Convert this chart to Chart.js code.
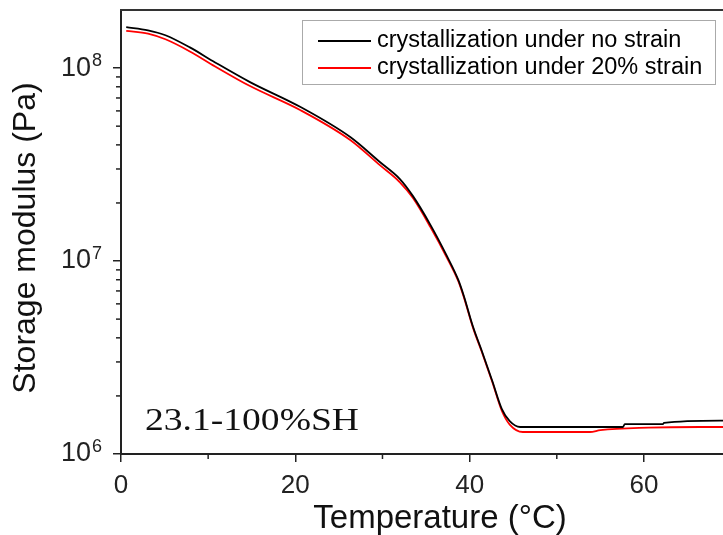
<!DOCTYPE html>
<html>
<head>
<meta charset="utf-8">
<script src="https://cdn.jsdelivr.net/npm/chart.js@4.4.1/dist/chart.umd.min.js"></script>
<style>
    html, body { margin: 0; padding: 0; background: #fff; overflow: hidden; }
    #plot_box { width: 760px; height: 535px; }
</style>
</head>
<body>
<div id="plot_box"><canvas id="storage_modulus_canvas"></canvas></div>
<script>
// temperature sweep, storage modulus E' (Pa)
const temperature_no_strain = [0.6, 3.1, 5.1, 7.9, 10.8, 14.8, 20.6, 26.3, 29.7, 32.0, 33.5, 35.5, 37.4, 38.7, 39.3, 40.4, 41.4, 42.6, 43.7, 44.6, 45.8, 50.0, 57.6, 57.8, 62.2, 62.3, 68.7, 70.0];
const modulus_no_strain = [1.63e8, 1.57e8, 1.48e8, 1.28e8, 1.07e8, 8.46e7, 6.28e7, 4.39e7, 3.26e7, 2.66e7, 2.17e7, 1.54e7, 1.06e7, 7.98e6, 6.67e6, 4.55e6, 3.42e6, 2.39e6, 1.71e6, 1.48e6, 1.38e6, 1.38e6, 1.38e6, 1.43e6, 1.43e6, 1.45e6, 1.49e6, 1.49e6];

const temperature_20_strain = [0.6, 3.1, 5.1, 7.9, 10.8, 14.8, 20.6, 26.3, 29.7, 32.0, 33.5, 35.5, 37.4, 38.7, 39.3, 40.4, 41.4, 42.6, 43.7, 44.6, 46.1, 53.8, 55.0, 60.5, 66.4, 70.0];
const modulus_20_strain = [1.56e8, 1.51e8, 1.41e8, 1.22e8, 1.02e8, 8.07e7, 6.05e7, 4.24e7, 3.14e7, 2.56e7, 2.12e7, 1.50e7, 1.04e7, 7.87e6, 6.58e6, 4.49e6, 3.38e6, 2.36e6, 1.67e6, 1.42e6, 1.30e6, 1.30e6, 1.33e6, 1.37e6, 1.38e6, 1.38e6];

const series_labels = ["crystallization under no strain", "crystallization under 20% strain"];
const series_colors = ["#000000", "#ff0000"];

const y_major_ticks = [1e6, 1e7, 1e8];
const x_minor_ticks = [10, 30, 50, 70];
const sample_name = "23.1-100%SH";

const sans = '"Liberation Sans", Arial, sans-serif';

function to_points(xs, ys) {
    return xs.map((x, i) => ({x: x, y: ys[i]}));
}

function stroke_line(ctx, x0, y0, x1, y1) {
    ctx.beginPath();
    ctx.moveTo(x0, y0);
    ctx.lineTo(x1, y1);
    ctx.stroke();
}

// frame, minor ticks, power-of-ten labels, titles, legend and sample tag
const decorations = {
    id: 'decorations',
    afterDraw(chart) {
        const ctx = chart.ctx;
        const area = chart.chartArea;
        const x = chart.scales.x;
        const y = chart.scales.y;

        ctx.save();

        ctx.strokeStyle = '#333';
        ctx.lineWidth = 2;
        stroke_line(ctx, area.left - 1, area.top, area.right, area.top);

        ctx.strokeStyle = '#222';
        ctx.lineWidth = 1.5;
        for (const v of x_minor_ticks) {
            const px = x.getPixelForValue(v);
            stroke_line(ctx, px, area.bottom, px, area.bottom + 5);
        }
        for (const decade of [1e6, 1e7, 1e8]) {
            for (let m = 2; m <= 9; m++) {
                const v = m * decade;
                if (v >= y.max) {continue;}
                const py = y.getPixelForValue(v);
                stroke_line(ctx, area.left - 5, py, area.left, py);
            }
        }

        ctx.fillStyle = '#222';
        ctx.textBaseline = 'middle';
        for (const v of y_major_ticks) {
            const py = y.getPixelForValue(v);
            const exp = String(Math.round(Math.log10(v)));
            ctx.font = '27px ' + sans;
            ctx.textAlign = 'right';
            ctx.fillText('10', 91, py);
            ctx.font = '18px ' + sans;
            ctx.textAlign = 'left';
            ctx.fillText(exp, 92, py - 7);
        }

        ctx.fillStyle = '#111';
        ctx.font = '33px ' + sans;
        ctx.textAlign = 'center';
        ctx.textBaseline = 'alphabetic';
        ctx.fillText('Temperature (\u00B0C)', (area.left + area.right) / 2, 528);

        ctx.save();
        ctx.font = '32px ' + sans;
        ctx.translate(35, (area.top + area.bottom) / 2 + 6);
        ctx.rotate(-Math.PI / 2);
        ctx.fillText('Storage modulus (Pa)', 0, 0);
        ctx.restore();

        // sample tag, set wide in a serif face
        ctx.save();
        ctx.font = '31px "Liberation Serif", "Times New Roman", serif';
        ctx.textAlign = 'left';
        const tag_width = ctx.measureText(sample_name).width;
        ctx.translate(145, 430);
        ctx.scale(214 / tag_width, 1);
        ctx.fillText(sample_name, 0, 0);
        ctx.restore();

        // legend box
        ctx.strokeStyle = '#aaa';
        ctx.lineWidth = 1;
        ctx.strokeRect(302.5, 20.5, 413, 64);
        ctx.font = '23.5px ' + sans;
        ctx.textAlign = 'left';
        ctx.textBaseline = 'middle';
        ctx.fillStyle = '#000';
        const rows = [41, 68];
        for (let i = 0; i < series_labels.length; i++) {
            ctx.strokeStyle = series_colors[i];
            ctx.lineWidth = 2;
            stroke_line(ctx, 318, rows[i], 371, rows[i]);
            ctx.fillText(series_labels[i], 377, rows[i]);
        }

        ctx.restore();
    }
};

let storage_modulus_plot;

function setup_storage_modulus_plot() {
    let data = {
        datasets: [
            {
                label: series_labels[0],
                data: to_points(temperature_no_strain, modulus_no_strain),
                borderColor: series_colors[0],
                borderWidth: 1.8
            },
            {
                label: series_labels[1],
                data: to_points(temperature_20_strain, modulus_20_strain),
                borderColor: series_colors[1],
                borderWidth: 1.8
            }
        ]
    };

    let config = {
        type: 'line',
        data: data,
        options: {
            responsive: true,
            maintainAspectRatio: false,
            animation: false,
            layout: {
                padding: {top: 10, right: 1, left: 0, bottom: 0}
            },
            elements: {
                point: {radius: 0},
                line: {cubicInterpolationMode: 'monotone'}
            },
            plugins: {
                legend: {display: false},
                tooltip: {enabled: false}
            },
            scales: {
                x: {
                    type: 'linear',
                    min: 0,
                    max: 73.2,
                    afterFit: (scale) => { scale.height = 81; },
                    ticks: {
                        stepSize: 20,
                        includeBounds: false,
                        padding: 8,
                        color: '#222',
                        font: {family: sans, size: 26}
                    },
                    grid: {
                        drawOnChartArea: false,
                        tickLength: 8,
                        tickColor: '#222',
                        lineWidth: 1.5
                    },
                    border: {display: true, color: '#222', width: 2}
                },
                y: {
                    type: 'logarithmic',
                    min: 1e6,
                    max: 2e8,
                    afterFit: (scale) => { scale.width = 121; },
                    afterBuildTicks: (scale) => {
                        scale.ticks = y_major_ticks.map(v => ({value: v, major: true}));
                    },
                    ticks: {display: false},
                    grid: {
                        drawOnChartArea: false,
                        tickLength: 8,
                        tickColor: '#222',
                        lineWidth: 1.5
                    },
                    border: {display: true, color: '#222', width: 2}
                }
            }
        },
        plugins: [decorations]
    };

    storage_modulus_plot = new Chart(
        document.getElementById('storage_modulus_canvas'),
        config
    );
}

setup_storage_modulus_plot();
</script>
</body>
</html>
